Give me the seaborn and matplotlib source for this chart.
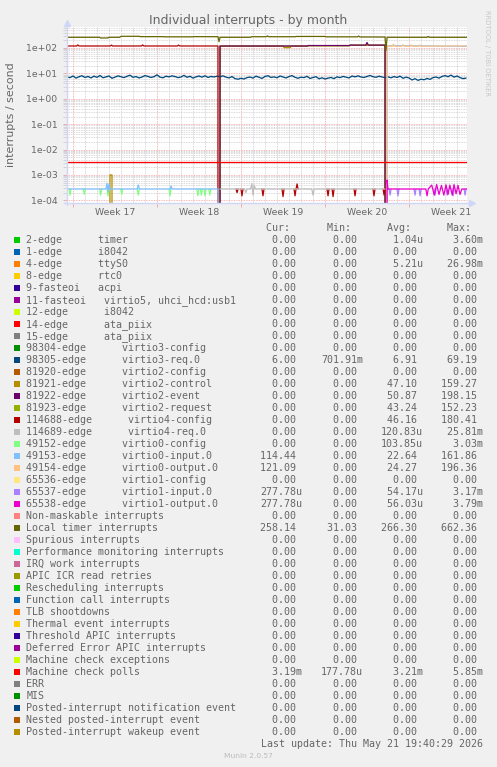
import numpy as np
import pandas as pd
import matplotlib
matplotlib.use("Agg")
import matplotlib.pyplot as plt
import seaborn as sns
from matplotlib.patches import Rectangle
from matplotlib.ticker import FixedLocator, NullFormatter

# ---------------------------------------------------------------- data
SAMPLE = 1.0 / 12.0        # munin month resolution: 2 h, expressed in days
ONE_PER_HOUR = 2.78e-4     # 1 interrupt per hour
PERIOD = 33.33             # days shown on the x axis

week_labels = ["Week 17", "Week 18", "Week 19", "Week 20", "Week 21"]
week_label_days = [4.0, 11.0, 18.0, 25.0, 32.0]
week_start_days = [0.5, 7.5, 14.5, 21.5, 28.5]
y_decades = [1e-4, 1e-3, 1e-2, 1e-1, 1e0, 1e1, 1e2]

# Local timer interrupts
local_timer_days = [0.0, 2.7, 2.8, 3.4, 3.5, 4.4, 4.5, 6.0, 6.1, 8.0,
                    8.1, 10.5, 10.6, 12.58, 12.67, 12.75, 15.3, 15.4, 16.6, 16.7,
                    16.8, 19.0, 19.1, 21.5, 21.6, 24.2, 24.3, 24.4, 26.5, 26.58,
                    26.67, 30.0, 30.1, 30.2, 33.33]
local_timer_vals = [264, 264, 248, 248, 264, 264, 289, 289, 280, 280,
                    275, 275, 280, 278, 177, 264, 264, 278, 278, 300,
                    278, 278, 285, 285, 275, 275, 295, 272, 270, 80,
                    264, 264, 285, 264, 264]

# 98305-edge virtio3-req.0 (one value every 6 h)
virtio3_req_step = 0.25
virtio3_req_vals = [
    7.2, 6.8, 7.9, 6.5, 7.4, 8.1, 6.9, 7.6, 6.6, 7.8, 7.0, 8.3, 6.7, 7.3, 7.9, 6.4, 7.1,
    8.0, 7.4, 6.8, 7.7, 8.5, 7.0, 7.5, 6.6, 7.2, 8.2, 7.6, 6.9, 7.4, 8.8, 7.1, 6.7, 7.8,
    7.3, 8.0, 7.5, 6.8, 7.2, 8.4, 7.0, 7.7, 6.5, 7.3, 7.9, 7.1, 8.1, 6.9, 7.6, 7.2, 7.8,
    7.4, 8.0, 7.1, 6.6, 7.5, 6.2, 5.9, 6.4, 6.0, 6.8, 7.2, 6.5, 7.8, 7.0, 6.3, 7.6, 8.1,
    6.9, 7.3, 6.7, 7.9, 7.2, 6.6, 7.5, 8.2, 7.0, 6.4, 7.1, 6.8, 7.7, 6.3, 6.9, 7.4, 6.1,
    6.7, 6.0, 6.5, 6.9, 6.2, 7.3, 6.8, 7.6, 7.1, 6.6, 7.9, 7.3, 8.0, 7.2, 6.9, 7.6, 8.3,
    7.4, 7.0, 7.8, 7.2, 6.8,
    7.3, 6.7, 7.5, 6.9, 7.8, 6.4, 7.1, 6.6, 5.5, 6.2, 5.3, 5.9, 5.6, 6.3, 5.8, 6.8, 7.2,
    6.5, 7.6, 8.2, 7.4, 8.6, 7.1, 7.9, 6.8, 6.2, 6.5]

# Machine check polls
mc_polls_days = [0.0, 33.33]
mc_polls_vals = [3.2e-3, 3.2e-3]

# 114688-edge virtio4-config
virtio4_cfg_days = [0.0, 0.8, 0.9, 1.0, 3.6, 3.7, 3.8, 6.2, 6.3, 6.4, 9.2, 9.3, 9.4, 12.58, 12.67]
virtio4_cfg_vals = [120, 120, 132, 120, 120, 130, 120, 120, 132, 120, 120, 130, 120, 120, 0]
virtio4_cfg_dip_days = [14.17, 14.58, 16.33, 18.0, 19.0, 19.17, 21.75, 22.17, 24.0, 25.58, 26.42]
virtio4_cfg_dip_vals = [2.0e-4, 1.5e-4, 1.5e-4, 1.4e-4, 1.5e-4, 4.4e-4, 1.5e-4, 1.4e-4, 1.5e-4, 1.5e-4, 1.6e-4]

# 114689-edge virtio4-req.0
virtio4_req_days = [12.75, 14.8, 14.9, 15.0, 15.3, 15.4, 15.5, 15.6, 15.7, 20.4, 20.5, 20.6, 26.5]
virtio4_req_vals = [2.78e-4, 2.78e-4, 2.0e-4, 2.78e-4, 2.78e-4, 4.6e-4, 1.6e-4, 4.0e-4, 2.78e-4,
                    2.78e-4, 1.6e-4, 2.78e-4, 2.78e-4]

# 49152-edge virtio0-config (short dips)
virtio0_cfg_dip_days = [0.25, 1.44, 2.8, 3.42, 4.56, 5.94, 8.58, 10.9, 11.2, 11.5, 11.9]
virtio0_cfg_dip_vals = [1.6e-4, 1.7e-4, 1.6e-4, 1.5e-4, 1.7e-4, 1.6e-4, 1.5e-4, 1.5e-4, 1.6e-4, 1.5e-4, 1.6e-4]

# 49153-edge virtio0-input.0
virtio0_in_days = [0.0, 3.25, 3.33, 3.42, 3.5, 3.58, 5.85, 5.94, 6.03, 8.6, 8.67, 8.75,
                   12.58, 12.67, 26.58, 26.67, 28.0, 30.5, 33.33]
virtio0_in_vals = [2.78e-4, 2.78e-4, 4.7e-4, 2.2e-4, 4.5e-4, 2.78e-4, 2.78e-4, 4.0e-4, 2.78e-4,
                   2.78e-4, 3.7e-4, 2.78e-4, 2.78e-4, 0, 0, 122, 124, 120, 116]

# 49154-edge virtio0-output.0
virtio0_out_days = [26.5, 26.58, 26.67, 27.1, 27.2, 27.3, 27.9, 28.0, 28.1, 28.6, 28.7, 28.8,
                    29.3, 29.4, 29.5, 33.33]
virtio0_out_vals = [0, 0, 118, 118, 140, 118, 118, 135, 118, 118, 133, 118, 118, 132, 118, 121]

# 81921 / 81922 / 81923 virtio2
virtio2_ctl_days = [3.5, 3.58, 3.75, 3.83, 12.67, 12.75, 18.0, 18.1, 18.6, 18.7, 20.0, 20.1,
                    23.5, 23.6, 26.5, 26.58]
virtio2_ctl_vals = [0, 1.0e-3, 1.0e-3, 0, 0, 118, 118, 103, 103, 118, 118, 123,
                    123, 128, 128, 0]
virtio2_evt_days = [12.67, 12.75, 20.0, 20.1, 23.5, 23.6, 24.9, 25.0, 25.1, 26.5, 26.58]
virtio2_evt_vals = [0, 120, 120, 125, 125, 130, 130, 165, 130, 130, 0]
virtio2_req_days = [12.67, 12.75, 20.0, 20.1, 23.5, 23.6, 26.5, 26.58]
virtio2_req_vals = [0, 118, 118, 123, 123, 128, 128, 0]

# 65537 / 65538 virtio1
virtio1_in_dip_days = [26.92, 27.58, 29.0, 29.42, 30.67, 31.67, 32.17, 33.17]
virtio1_in_dip_vals = [1.6e-4, 1.5e-4, 1.6e-4, 1.5e-4, 1.6e-4, 1.6e-4, 1.5e-4, 1.6e-4]
virtio1_out_days = [26.58, 26.67, 26.75, 29.9, 30.0, 30.1, 30.39, 30.6, 30.8, 31.0,
                    31.2, 31.4, 31.58, 31.75, 31.9, 32.1, 32.25, 32.42, 32.58, 32.75,
                    32.9, 33.33]
virtio1_out_vals = [0, 6.3e-4, 2.78e-4, 2.78e-4, 1.5e-4, 2.78e-4, 4.0e-4, 1.6e-4, 4.2e-4, 1.7e-4,
                    3.9e-4, 1.6e-4, 4.1e-4, 1.7e-4, 4.0e-4, 1.6e-4, 4.2e-4, 1.8e-4, 3.9e-4, 1.7e-4,
                    2.78e-4, 2.78e-4]

# ---------------------------------------------------------------- legend
legend_labels = [
    "2-edge      timer", "1-edge      i8042", "4-edge      ttyS0", "8-edge      rtc0",
    "9-fasteoi   acpi", "11-fasteoi   virtio5, uhci_hcd:usb1", "12-edge      i8042",
    "14-edge      ata_piix", "15-edge      ata_piix", "98304-edge      virtio3-config",
    "98305-edge      virtio3-req.0", "81920-edge      virtio2-config",
    "81921-edge      virtio2-control", "81922-edge      virtio2-event",
    "81923-edge      virtio2-request", "114688-edge      virtio4-config",
    "114689-edge      virtio4-req.0", "49152-edge      virtio0-config",
    "49153-edge      virtio0-input.0", "49154-edge      virtio0-output.0",
    "65536-edge      virtio1-config", "65537-edge      virtio1-input.0",
    "65538-edge      virtio1-output.0", "Non-maskable interrupts", "Local timer interrupts",
    "Spurious interrupts", "Performance monitoring interrupts", "IRQ work interrupts",
    "APIC ICR read retries", "Rescheduling interrupts", "Function call interrupts",
    "TLB shootdowns", "Thermal event interrupts", "Threshold APIC interrupts",
    "Deferred Error APIC interrupts", "Machine check exceptions", "Machine check polls",
    "ERR", "MIS", "Posted-interrupt notification event", "Nested posted-interrupt event",
    "Posted-interrupt wakeup event"]
cur_vals = ["0.00", "0.00", "0.00", "0.00", "0.00", "0.00", "0.00", "0.00", "0.00", "0.00",
            "6.00", "0.00", "0.00", "0.00", "0.00", "0.00", "0.00", "0.00", "114.44", "121.09",
            "0.00", "277.78u", "277.78u", "0.00", "258.14", "0.00", "0.00", "0.00", "0.00", "0.00",
            "0.00", "0.00", "0.00", "0.00", "0.00", "0.00", "3.19m", "0.00", "0.00", "0.00",
            "0.00", "0.00"]
min_vals = ["0.00", "0.00", "0.00", "0.00", "0.00", "0.00", "0.00", "0.00", "0.00", "0.00",
            "701.91m", "0.00", "0.00", "0.00", "0.00", "0.00", "0.00", "0.00", "0.00", "0.00",
            "0.00", "0.00", "0.00", "0.00", "31.03", "0.00", "0.00", "0.00", "0.00", "0.00",
            "0.00", "0.00", "0.00", "0.00", "0.00", "0.00", "177.78u", "0.00", "0.00", "0.00",
            "0.00", "0.00"]
avg_vals = ["1.04u", "0.00", "5.21u", "0.00", "0.00", "0.00", "0.00", "0.00", "0.00", "0.00",
            "6.91", "0.00", "47.10", "50.87", "43.24", "46.16", "120.83u", "103.85u", "22.64", "24.27",
            "0.00", "54.17u", "56.03u", "0.00", "266.30", "0.00", "0.00", "0.00", "0.00", "0.00",
            "0.00", "0.00", "0.00", "0.00", "0.00", "0.00", "3.21m", "0.00", "0.00", "0.00",
            "0.00", "0.00"]
max_vals = ["3.60m", "0.00", "26.98m", "0.00", "0.00", "0.00", "0.00", "0.00", "0.00", "0.00",
            "69.19", "0.00", "159.27", "198.15", "152.23", "180.41", "25.81m", "3.03m", "161.86", "196.36",
            "0.00", "3.17m", "3.79m", "0.00", "662.36", "0.00", "0.00", "0.00", "0.00", "0.00",
            "0.00", "0.00", "0.00", "0.00", "0.00", "0.00", "5.85m", "0.00", "0.00", "0.00",
            "0.00", "0.00"]
munin_palette = ["#00CC00", "#0066B3", "#FF8000", "#FFCC00", "#330099", "#990099", "#CCFF00",
                 "#FF0000", "#808080", "#008F00", "#00487D", "#B35A00", "#B38F00", "#6B006B",
                 "#8FB300", "#B30000", "#BEBEBE", "#80FF80", "#80C0FF", "#FFC080", "#FFE680",
                 "#AA80FF", "#EE00CC", "#FF8080", "#666600", "#FFBFFF", "#00FFCC", "#CC6699",
                 "#999900"]
legend_colors = [munin_palette[i % len(munin_palette)] for i in range(len(legend_labels))]

# ---------------------------------------------------------------- long table
rows = []


def add_line(idx, days, vals, seg=0):
    for d, v in zip(days, vals):
        rows.append((idx, seg, d, v))


def add_dips(idx, days, vals):
    for i, (d, v) in enumerate(zip(days, vals), start=1):
        add_line(idx, [d - SAMPLE, d, d + SAMPLE], [ONE_PER_HOUR, v, ONE_PER_HOUR], seg=i)


add_line(14, virtio2_req_days, virtio2_req_vals)
add_line(12, virtio2_ctl_days, virtio2_ctl_vals)
add_line(13, virtio2_evt_days, virtio2_evt_vals)
add_line(10, np.arange(len(virtio3_req_vals)) * virtio3_req_step, virtio3_req_vals)
add_line(15, virtio4_cfg_days, virtio4_cfg_vals)
add_dips(15, virtio4_cfg_dip_days, virtio4_cfg_dip_vals)
add_line(16, virtio4_req_days, virtio4_req_vals)
add_dips(17, virtio0_cfg_dip_days, virtio0_cfg_dip_vals)
add_line(18, virtio0_in_days, virtio0_in_vals)
add_line(19, virtio0_out_days, virtio0_out_vals)
add_dips(21, virtio1_in_dip_days, virtio1_in_dip_vals)
add_line(22, virtio1_out_days, virtio1_out_vals)
add_line(24, local_timer_days, local_timer_vals)
add_line(36, mc_polls_days, mc_polls_vals)
df = pd.DataFrame(rows, columns=["series", "seg", "day", "value"])
draw_order = list(dict.fromkeys(df["series"]))

# ---------------------------------------------------------------- figure
sns.set_theme(style="white")
plt.rcParams["font.family"] = ["DejaVu Sans"]
TXT = "#666666"
AXC = "#CFD6F8"

W, H = 497, 767
fig = plt.figure(figsize=(W / 100, H / 100), dpi=100, facecolor="#F0F0F0")
L, R, T, B = 67, 467, 26.7, 202.5
ax = fig.add_axes([L / W, 1 - B / H, (R - L) / W, (B - T) / H])
ax.set_facecolor("white")

for s in draw_order:
    sub = df[df["series"] == s]
    sns.lineplot(data=sub, x="day", y="value", units="seg", estimator=None, sort=False,
                 color=legend_colors[s], lw=0.9, ax=ax, legend=False)

ax.set_yscale("log")
ax.set_xlim(0, PERIOD)
ax.set_ylim(8.2e-5, 690)
ax.set_xlabel("")
ax.set_ylabel("")

# y axis
ax.yaxis.set_major_locator(FixedLocator(y_decades))
ax.set_yticklabels([f"{v:.0e}" for v in y_decades])
minor_y = [k * d for d in y_decades for k in range(2, 10)]
ax.yaxis.set_minor_locator(FixedLocator(minor_y))
ax.yaxis.set_minor_formatter(NullFormatter())
ax.tick_params(axis="y", which="major", length=3, width=0.6, color="#F0A0A0",
               labelsize=6.7, labelcolor=TXT, pad=4.0, left=True)
ax.tick_params(axis="y", which="minor", length=3, width=0.6, color="#D0D0D0", left=True)

# x axis: major = week boundaries, minor = days
ax.xaxis.set_major_locator(FixedLocator(week_start_days))
ax.xaxis.set_major_formatter(NullFormatter())
ax.xaxis.set_minor_locator(FixedLocator(list(np.arange(0.5, PERIOD, 1.0))))
ax.tick_params(axis="x", which="major", length=3, width=0.6, color="#F0A0A0", bottom=True)
ax.tick_params(axis="x", which="minor", length=0)
sec = ax.secondary_xaxis("bottom")
sec.set_xticks(week_label_days, labels=week_labels)
sec.tick_params(length=0, pad=3.8, labelsize=6.7, labelcolor=TXT)
sec.spines["bottom"].set_visible(False)

ax.grid(True, which="major", color="#F2A0A0", lw=0.6, ls=(0, (1, 1)))
ax.grid(True, which="minor", color="#CCCCCC", lw=0.6, ls=(0, (1, 1)))
ax.set_axisbelow(True)

for sp in ["top", "right", "left", "bottom"]:
    ax.spines[sp].set_visible(False)
ax.plot([0, 0], [-0.014, 1.018], transform=ax.transAxes, color=AXC, lw=1.0, clip_on=False)
ax.plot([-0.0075, 1.008], [0, 0], transform=ax.transAxes, color=AXC, lw=1.0, clip_on=False)
ax.plot([0], [1.022], transform=ax.transAxes, marker="^", ms=4, color=AXC, clip_on=False)
ax.plot([1.012], [0], transform=ax.transAxes, marker=">", ms=4, color=AXC, clip_on=False)

# titles
fig.text(248.5 / W, 1 - 24 / H, "Individual interrupts - by month", ha="center",
         va="baseline", fontsize=9, color=TXT)
fig.text(11.5 / W, 1 - 115 / H, "interrupts / second", rotation=90, ha="center",
         va="center", fontsize=7.9, color=TXT)
fig.text(487 / W, 1 - 53 / H, "RRDTOOL / TOBI OETIKER", rotation=-90, ha="center",
         va="center", fontsize=4.9, color="#C8C8C8")

# ---------------------------------------------------------------- legend (pixel coords)
lax = fig.add_axes([0, 0, 1, 1], facecolor="none")
lax.set_xlim(0, W)
lax.set_ylim(H, 0)
lax.axis("off")
MONO = dict(family="DejaVu Sans Mono", fontsize=7.2, color=TXT, va="baseline")
ROW0, PITCH, BASE = 239.8, 12.0, 3.6
cols_x = [260.3, 321.0, 381.0, 441.3]


def fmt(s):
    if s[-1].isalpha():
        return f"{s[:-1]:>6}{s[-1]}"
    return f"{s:>6} "


for x, h in zip(cols_x, ["Cur:", "Min:", "Avg:", "Max:"]):
    lax.text(x, ROW0 - PITCH + BASE - 0.5, " " + h, ha="left", **MONO)
for i, lab in enumerate(legend_labels):
    yc = ROW0 + PITCH * i
    lax.add_patch(Rectangle((13.9, yc - 2.8), 5.6, 5.6, facecolor=legend_colors[i],
                            edgecolor="none"))
    lax.text(26.3, yc + BASE, lab, ha="left", **MONO)
    for x, vals in zip(cols_x, [cur_vals, min_vals, avg_vals, max_vals]):
        lax.text(x, yc + BASE, fmt(vals[i]), ha="left", **MONO)
lax.text(482.7, ROW0 + PITCH * 42 + BASE - 0.5, "Last update: Thu May 21 19:40:29 2026",
         ha="right", **MONO)
lax.text(248, 756, "Munin 2.0.57", ha="center", va="center", fontsize=5.4, color="#BBBBBB")

fig.savefig("out.png", dpi=100, facecolor=fig.get_facecolor())
